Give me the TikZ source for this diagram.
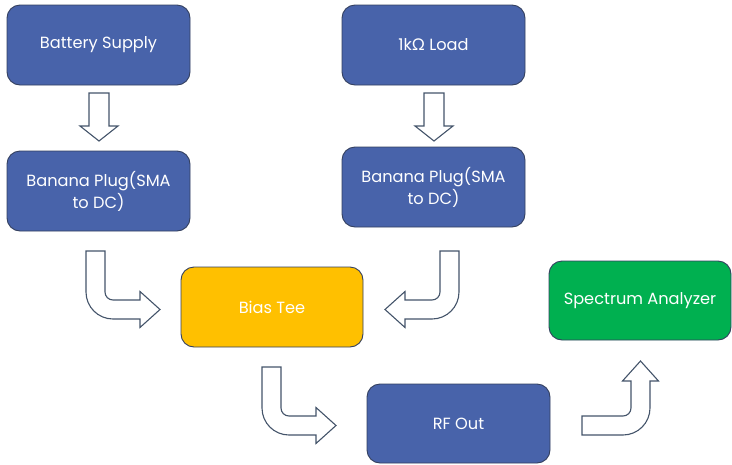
\documentclass[tikz,border=0pt]{standalone}
\usepackage{fontspec}
\setmainfont{Poppins}
\newfontfamily\omegafont{Lato}
\definecolor{boxblue}{HTML}{4863AA}
\definecolor{boxyellow}{HTML}{FFC000}
\definecolor{boxgreen}{HTML}{00B050}
\definecolor{boxedge}{HTML}{34405F}
\definecolor{arrowedge}{HTML}{44546A}
\tikzset{
  box/.style={draw=boxedge, line width=0.9pt, rounded corners=13pt, text=white,
    align=center, font=\fontsize{16.2}{22}\selectfont, inner sep=0pt},
  bluebox/.style={box, fill=boxblue},
  blockarrow/.style={draw=arrowedge, fill=white, line width=1.1pt, line join=miter},
}
\newcommand\bentshape{\draw[blockarrow] (0,0) -- (19,0) -- (19,41)
  .. controls (19,45.42) and (22.58,49) .. (27,49) -- (54,49) -- (54,40.5)
  -- (74,58.5) -- (54,76.5) -- (54,68) -- (27,68)
  .. controls (12.09,68) and (0,55.91) .. (0,41) -- cycle;}
\newcommand\downshape{\draw[blockarrow] (-10,0) -- (10,0) -- (10,33) -- (19,33)
  -- (0,48) -- (-19,33) -- (-10,33) -- cycle;}
\begin{document}
\begin{tikzpicture}[x=1pt,y=-1pt]
\useasboundingbox (0,0) rectangle (732,464);
\node[bluebox, minimum width=183pt, minimum height=80pt] (bat) at (98.5,45) {Battery Supply};
\node[bluebox, minimum width=183pt, minimum height=80pt] (ban1) at (98.5,191) {Banana Plug(SMA\\to DC)};
\node[bluebox, minimum width=183pt, minimum height=80pt] (load) at (433.5,45) {1k{\omegafont Ω} Load};
\node[bluebox, minimum width=183pt, minimum height=80pt] (ban2) at (433.5,187) {Banana Plug(SMA\\to DC)};
\node[box, fill=boxyellow, minimum width=182pt, minimum height=80pt] (bias) at (272,307) {Bias Tee};
\node[bluebox, minimum width=183pt, minimum height=79pt] (rf) at (458.5,423.5) {RF Out};
\node[box, fill=boxgreen, minimum width=182pt, minimum height=79pt] (spec) at (640,300.5) {Spectrum Analyzer};
\begin{scope}[shift={(99,93)}]\downshape\end{scope}
\begin{scope}[shift={(434,93)}]\downshape\end{scope}
\begin{scope}[shift={(86,251)}]\bentshape\end{scope}
\begin{scope}[shift={(459,251)},xscale=-1]\bentshape\end{scope}
\begin{scope}[shift={(262,367)}]\bentshape\end{scope}
\begin{scope}[shift={(582,435)},rotate=90]\bentshape\end{scope}
\end{tikzpicture}
\end{document}
